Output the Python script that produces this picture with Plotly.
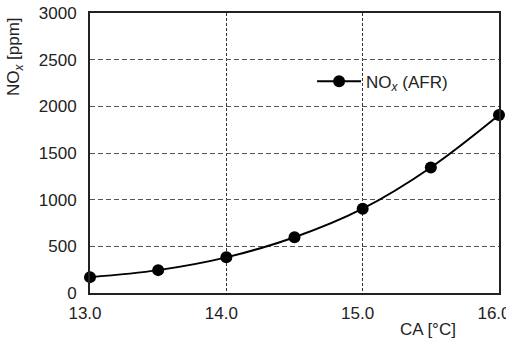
import plotly.graph_objects as go

ca = [13.0, 13.5, 14.0, 14.5, 15.0, 15.5, 16.0]
nox = [170, 245, 382, 597, 903, 1345, 1907]
x_ticks = [13.0, 14.0, 15.0, 16.0]
x_tick_labels = ["13.0", "14.0", "15.0", "16.0"]
y_ticks = [0, 500, 1000, 1500, 2000, 2500, 3000]

font = dict(family="Liberation Sans, Arial, sans-serif", size=17, color="#222222")

fig = go.Figure()
fig.add_trace(go.Scatter(
    x=ca, y=nox, mode="lines+markers",
    name="NO<sub><i>x</i></sub> (AFR)",
    line=dict(color="black", width=2, shape="spline"),
    marker=dict(color="black", size=12),
    cliponaxis=False,
))

fig.update_layout(
    width=506, height=341,
    margin=dict(l=90, r=7, t=13, b=48, autoexpand=False),
    paper_bgcolor="white", plot_bgcolor="white",
    font=font,
    showlegend=True,
    legend=dict(x=0.543, y=0.755, xanchor="left", yanchor="middle",
                itemwidth=44,
                bgcolor="rgba(0,0,0,0)", font=font),
    xaxis=dict(range=[13.0, 16.0], tickvals=x_ticks, ticktext=x_tick_labels,
               showgrid=True, gridcolor="#333333", griddash="3px,2px", gridwidth=1,
               showline=True, linecolor="#222222", linewidth=2, mirror=True,
               ticks="", zeroline=False, tickfont=font, automargin=False,
               ticklabeloverflow="allow", ticklabelstandoff=4,
               ticklabelshift=-5),
    yaxis=dict(range=[0, 3000], tickvals=y_ticks,
               showgrid=True, gridcolor="#555555", griddash="5px,3px", gridwidth=1,
               showline=True, linecolor="#222222", linewidth=2, mirror=True,
               ticks="", zeroline=False, tickfont=font, automargin=False,
               ticklabelstandoff=8),
    annotations=[
        dict(text="NO<sub><i>x</i></sub> [ppm]", xref="paper", yref="paper",
             x=-0.183, y=0.843, textangle=-90, showarrow=False,
             xanchor="center", yanchor="middle", font=font),
        dict(text="CA [°C]", xref="paper", yref="paper",
             x=0.826, y=-0.132, showarrow=False,
             xanchor="center", yanchor="middle", font=font),
    ],
)

fig.write_html("out.html")
